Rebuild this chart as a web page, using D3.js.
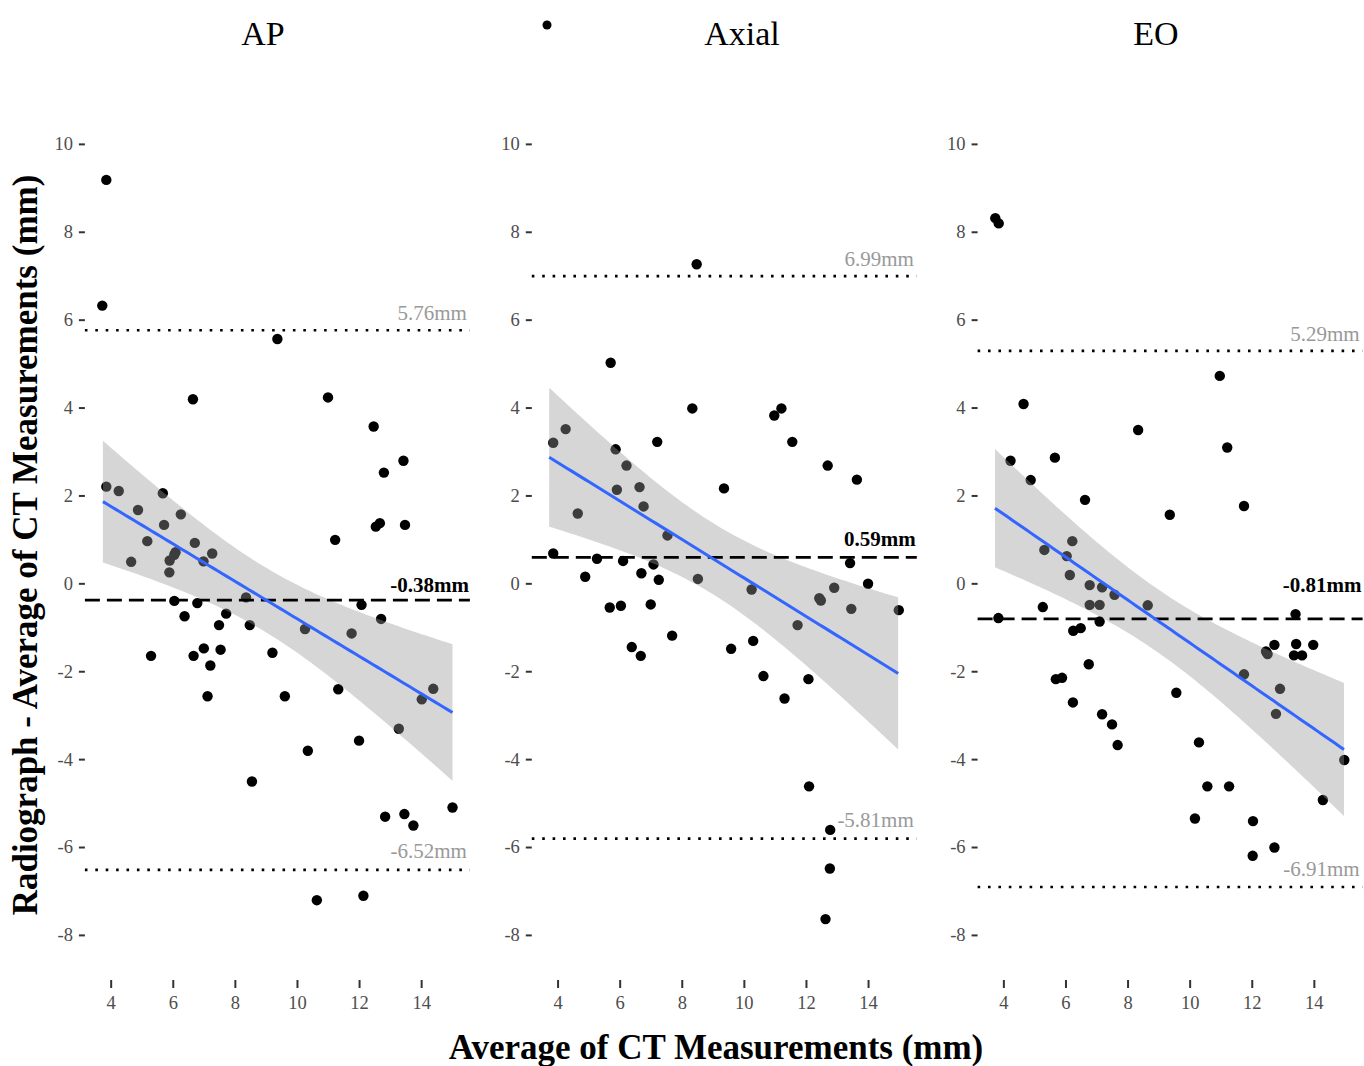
<!DOCTYPE html>
<html>
<head>
<meta charset="utf-8">
<script src="https://cdn.jsdelivr.net/npm/d3@7/dist/d3.min.js"></script>
<style>
  body { margin: 0; background: #fff; }
  text { font-family: "Liberation Serif", "Times New Roman", serif; }
</style>
</head>
<body>
<svg id="chart" width="1364" height="1066"></svg>
<script>
// panel names and Bland-Altman lines
var panelNames = ["AP", "Axial", "EO"];
var meanDiff = [-0.38, 0.59, -0.81];
var upperLoA = [5.76, 6.99, 5.29];
var lowerLoA = [-6.52, -5.81, -6.91];

// AP points (x = average of CT, y = radiograph - average of CT)
var apX = [3.86, 3.73, 9.37, 6.65, 11.0, 12.47, 13.43, 12.80, 3.86, 4.26, 5.68, 4.88, 6.26, 5.72, 12.54, 12.67, 13.48,
  11.23, 5.18, 4.66, 6.71, 6.09, 6.05, 5.90, 7.27, 6.99, 5.89, 6.05, 6.79, 8.36, 12.08, 6.38, 7.72, 7.49, 8.48, 12.71,
  10.26, 11.76, 5.30, 6.67, 7.00, 7.54, 7.21, 9.21, 7.12, 9.61, 11.33, 14.39, 14.02, 13.28, 12.00, 10.35, 8.55, 15.01,
  12.84, 13.46, 13.75, 10.64, 12.14];
var apY = [9.18, 6.32, 5.56, 4.19, 4.23, 3.57, 2.79, 2.52, 2.20, 2.10, 2.05, 1.67, 1.57, 1.33, 1.29, 1.37, 1.33,
  0.99, 0.96, 0.49, 0.92, 0.71, 0.65, 0.52, 0.68, 0.50, 0.25, -0.40, -0.45, -0.32, -0.49, -0.75, -0.69, -0.95, -0.95, -0.81,
  -1.04, -1.14, -1.65, -1.65, -1.48, -1.51, -1.87, -1.58, -2.57, -2.57, -2.41, -2.40, -2.64, -3.31, -3.58, -3.81, -4.51, -5.10,
  -5.31, -5.25, -5.51, -7.21, -7.11];

// Axial points
var axialX = [8.48, 5.71, 8.34, 10.98, 11.21, 11.56, 4.26, 3.86, 7.21, 5.87, 6.22, 12.70, 13.64, 9.36, 5.91, 6.64, 6.77,
  4.65, 7.54, 3.86, 5.27, 6.11, 7.09, 13.42, 4.89, 6.70, 7.26, 8.52, 14.0, 10.25, 12.91, 12.43, 12.48, 13.46, 14.99,
  5.68, 6.04, 7.00, 11.73, 7.69, 10.30, 6.39, 6.68, 9.59, 10.63, 12.08, 11.31, 12.10, 12.78, 12.77, 12.63];
var axialY = [7.26, 5.02, 3.98, 3.82, 3.98, 3.22, 3.51, 3.20, 3.22, 3.05, 2.68, 2.68, 2.36, 2.16, 2.13, 2.19, 1.75,
  1.59, 1.09, 0.68, 0.56, 0.51, 0.43, 0.46, 0.15, 0.23, 0.08, 0.10, -0.01, -0.14, -0.10, -0.34, -0.39, -0.58, -0.61,
  -0.55, -0.51, -0.48, -0.95, -1.19, -1.31, -1.45, -1.65, -1.49, -2.11, -2.18, -2.62, -4.62, -5.61, -6.49, -7.64];

// EO points
var eoX = [3.74, 3.85, 4.65, 10.97, 8.34, 11.21, 4.23, 5.66, 4.88, 6.63, 9.36, 11.75, 6.22, 5.32, 6.04, 6.14, 6.78,
  7.18, 7.58, 6.78, 7.10, 8.65, 5.27, 3.84, 7.10, 6.25, 6.49, 13.41, 12.73, 12.46, 12.51, 13.43, 13.98, 13.36, 13.62,
  6.75, 11.75, 5.69, 5.89, 12.91, 9.57, 6.24, 12.78, 7.18, 7.50, 7.68, 10.30, 14.98, 10.57, 11.27, 14.29, 10.17, 12.04,
  12.73, 12.03];
var eoY = [8.31, 8.19, 4.08, 4.72, 3.49, 3.09, 2.79, 2.86, 2.35, 1.90, 1.56, 1.76, 0.96, 0.76, 0.62, 0.19, -0.04,
  -0.09, -0.26, -0.49, -0.49, -0.50, -0.54, -0.79, -0.87, -1.08, -1.02, -0.70, -1.40, -1.55, -1.61, -1.38, -1.40, -1.64, -1.64,
  -1.84, -2.07, -2.18, -2.15, -2.40, -2.49, -2.71, -2.97, -2.98, -3.21, -3.68, -3.62, -4.02, -4.62, -4.62, -4.93, -5.35, -5.41,
  -6.01, -6.20];

// linear fit: fitted value and band half-width at both ends
var fitXStart = [3.75, 3.73, 3.73];
var fitXEnd = [15.01, 14.97, 14.97];
var fitStart = [1.86, 2.87, 1.71];
var fitEnd = [-2.94, -2.05, -3.78];
var bandHalfStart = [1.375, 1.555, 1.335];
var bandHalfEnd = [1.565, 1.76, 1.525];

var xTicks = [4, 6, 8, 10, 12, 14];
var yTicks = [-8, -6, -4, -2, 0, 2, 4, 6, 8, 10];

var panelX = [apX, axialX, eoX];
var panelY = [apY, axialY, eoY];

// layout
var panelLeft = [84.9, 531.8, 977.6];
var panelW = 385;
var titleX = [263, 742, 1156];
var meanLabelDy = [8, 11, 27];

var svg = d3.select("#chart");

var x = d3.scaleLinear().domain([3.17, 15.57]).range([0, panelW]);
var y = d3.scaleLinear().domain([-8.48, 10.02]).range([956, 143]);

function mm(v) { return v.toFixed(2) + "mm"; }

// straight fit line with an lm-shaped confidence band (width grows away from mean x)
function smoothBand(p) {
  var xs = panelX[p];
  var n = xs.length;
  var mx = d3.mean(xs);
  var sxx = d3.sum(xs, function(d) { return (d - mx) * (d - mx); });
  var x0 = fitXStart[p], x1 = fitXEnd[p];
  var slope = (fitEnd[p] - fitStart[p]) / (x1 - x0);
  var shape = function(v) { return 1 / n + (v - mx) * (v - mx) / sxx; };
  var c = (bandHalfStart[p] * bandHalfStart[p] / shape(x0) + bandHalfEnd[p] * bandHalfEnd[p] / shape(x1)) / 2;
  var out = [];
  for (var k = 0; k < 80; k++) {
    var xv = x0 + (x1 - x0) * k / 79;
    var fit = fitStart[p] + slope * (xv - x0);
    var h = Math.sqrt(c * shape(xv));
    out.push({x: xv, fit: fit, lwr: fit - h, upr: fit + h});
  }
  return out;
}

panelNames.forEach(function(name, p) {
  var g = svg.append("g").attr("transform", "translate(" + panelLeft[p] + ",0)");
  var xs = panelX[p], ys = panelY[p];
  var pts = xs.map(function(d, i) { return {x: d, y: ys[i]}; });

  // y axis
  var yAxis = g.append("g")
      .call(d3.axisLeft(y).tickValues(yTicks).tickSize(6).tickPadding(6).tickFormat(function(d) { return String(d); }));
  yAxis.select(".domain").remove();
  yAxis.selectAll("line").attr("stroke", "#333").attr("stroke-width", 2);
  yAxis.selectAll("text").style("font-size", "18.5px").attr("fill", "#4d4d4d")
      .style("font-family", "'Liberation Serif', serif");

  // x axis
  var xAxis = g.append("g")
      .attr("transform", "translate(0,980)")
      .call(d3.axisBottom(x).tickValues(xTicks).tickSize(8).tickPadding(8).tickFormat(function(d) { return String(d); }));
  xAxis.select(".domain").remove();
  xAxis.selectAll("line").attr("stroke", "#333").attr("stroke-width", 2);
  xAxis.selectAll("text").style("font-size", "18.5px").attr("fill", "#4d4d4d")
      .style("font-family", "'Liberation Serif', serif");

  // points
  g.selectAll("circle.pt")
      .data(pts)
    .enter().append("circle")
      .attr("class", "pt")
      .attr("cx", function(d) { return x(d.x); })
      .attr("cy", function(d) { return y(d.y); })
      .attr("r", 5.2)
      .attr("fill", "black");

  // confidence band
  var band = smoothBand(p);
  var area = d3.area()
      .x(function(d) { return x(d.x); })
      .y0(function(d) { return y(d.lwr); })
      .y1(function(d) { return y(d.upr); });
  g.append("path")
      .datum(band)
      .attr("d", area)
      .attr("fill", "#999999")
      .attr("fill-opacity", 0.4);

  // mean and limits of agreement
  g.append("line")
      .attr("x1", 0).attr("x2", panelW)
      .attr("y1", y(upperLoA[p])).attr("y2", y(upperLoA[p]))
      .attr("stroke", "black").attr("stroke-width", 2.6).attr("stroke-dasharray", "2.6,7.8");
  g.append("line")
      .attr("x1", 0).attr("x2", panelW)
      .attr("y1", y(lowerLoA[p])).attr("y2", y(lowerLoA[p]))
      .attr("stroke", "black").attr("stroke-width", 2.6).attr("stroke-dasharray", "2.6,7.8");
  g.append("line")
      .attr("x1", 0).attr("x2", panelW)
      .attr("y1", y(meanDiff[p])).attr("y2", y(meanDiff[p]))
      .attr("stroke", "black").attr("stroke-width", 2.8).attr("stroke-dasharray", "15,7");

  // fitted line
  var line = d3.line()
      .x(function(d) { return x(d.x); })
      .y(function(d) { return y(d.fit); });
  g.append("path")
      .datum(band)
      .attr("d", line)
      .attr("fill", "none")
      .attr("stroke", "#3366FF")
      .attr("stroke-width", 3);

  // labels
  g.append("text")
      .attr("x", panelW - 3).attr("y", y(upperLoA[p]) - 10)
      .attr("text-anchor", "end")
      .style("font-size", "21px").attr("fill", "#999")
      .text(mm(upperLoA[p]));
  g.append("text")
      .attr("x", panelW - 3).attr("y", y(lowerLoA[p]) - 11.5)
      .attr("text-anchor", "end")
      .style("font-size", "21px").attr("fill", "#999")
      .text(mm(lowerLoA[p]));
  g.append("text")
      .attr("x", panelW - 1).attr("y", y(meanDiff[p]) - meanLabelDy[p])
      .attr("text-anchor", "end")
      .style("font-size", "21px").style("font-weight", "bold").attr("fill", "black")
      .text(mm(meanDiff[p]));

  // panel title
  svg.append("text")
      .attr("x", titleX[p]).attr("y", 45)
      .attr("text-anchor", "middle")
      .style("font-size", "34px")
      .text(name);
});

// stray dot next to the Axial title
svg.append("circle").attr("cx", 547).attr("cy", 25).attr("r", 4.5).attr("fill", "black");

// axis titles
svg.append("text")
    .attr("transform", "translate(37,545) rotate(-90)")
    .attr("text-anchor", "middle")
    .style("font-size", "35px").style("font-weight", "bold")
    .text("Radiograph - Average of CT Measurements (mm)");

svg.append("text")
    .attr("x", 716).attr("y", 1059)
    .attr("text-anchor", "middle")
    .style("font-size", "35px").style("font-weight", "bold")
    .text("Average of CT Measurements (mm)");
</script>
</body>
</html>
